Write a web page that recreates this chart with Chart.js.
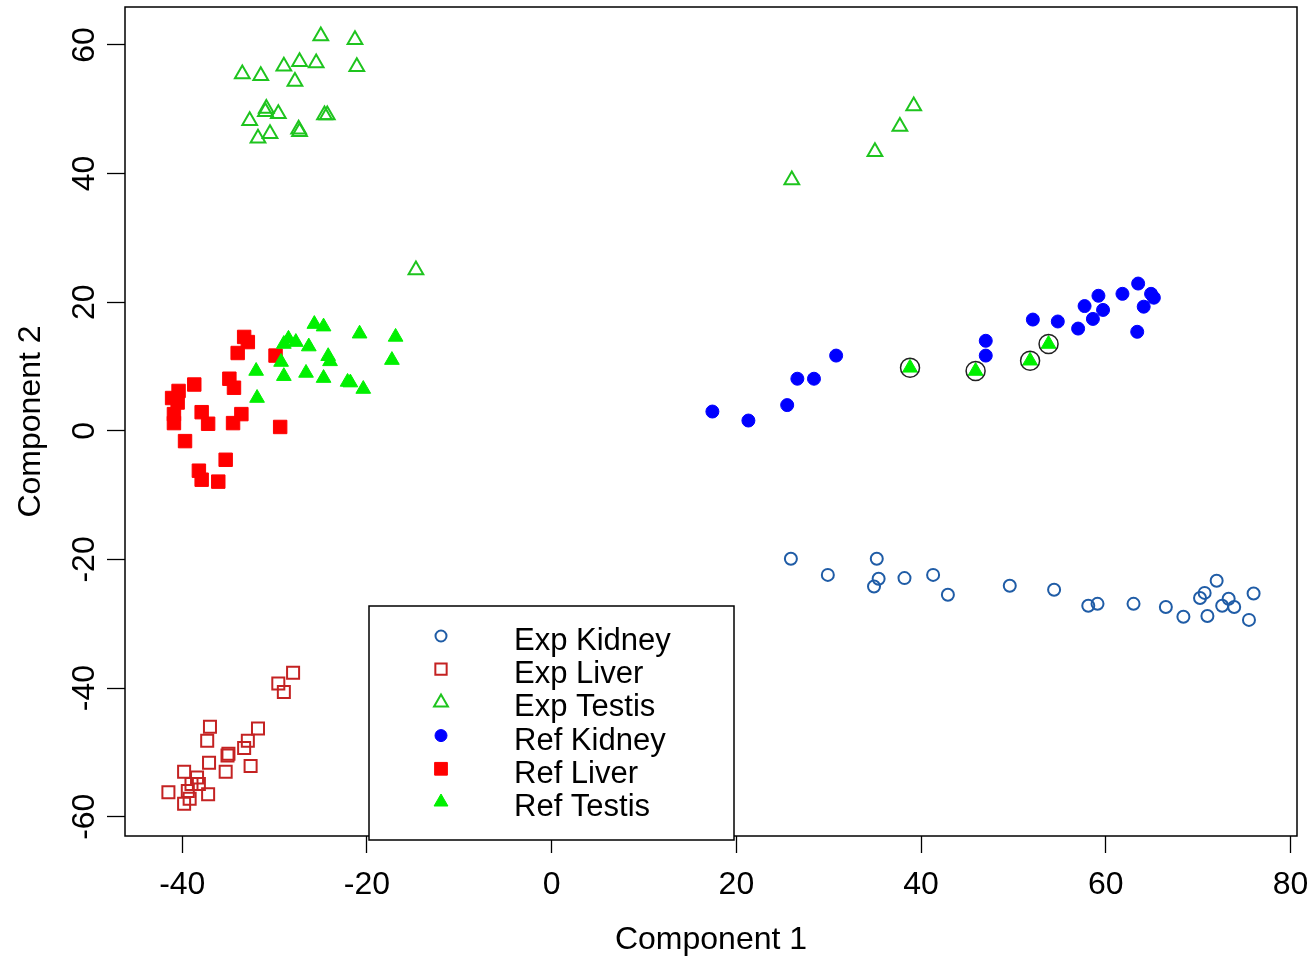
<!DOCTYPE html>
<html>
<head>
<meta charset="utf-8">
<title>Component plot</title>
<script src="https://cdn.jsdelivr.net/npm/chart.js@4.4.0/dist/chart.umd.min.js"></script>
<style>
  html, body { margin: 0; padding: 0; background: #fff; }
  canvas { display: block; }
</style>
</head>
<body>
<canvas id="pcaChart" width="1312" height="959"></canvas>
<script>
// tick labels
const xTicks = [-40, -20, 0, 20, 40, 60, 80];
const yTicks = [-60, -40, -20, 0, 20, 40, 60];

const seriesNames = ['Exp Kidney', 'Exp Liver', 'Exp Testis', 'Ref Kidney', 'Ref Liver', 'Ref Testis'];

// values
const expKidneyX = [25.9, 29.9, 35.2, 35.4, 34.9, 38.2, 41.3, 42.9, 49.6, 54.4, 58.1, 59.1, 63.0, 66.5, 68.4, 70.2, 70.7, 72.0, 71.0, 72.6, 73.3, 73.9, 76.0, 75.5];
const expKidneyY = [-19.9, -22.4, -19.9, -23.0, -24.2, -22.9, -22.4, -25.5, -24.1, -24.7, -27.2, -26.9, -26.9, -27.4, -28.9, -26.0, -25.2, -23.3, -28.8, -27.2, -26.1, -27.4, -25.3, -29.4];

const expLiverX = [-28.0, -29.6, -29.0, -37.0, -37.3, -31.8, -32.9, -33.3, -35.0, -35.1, -37.1, -35.3, -32.6, -39.8, -38.4, -39.0, -38.2, -39.4, -41.5, -37.2, -39.2, -39.8];
const expLiverY = [-37.6, -39.3, -40.6, -46.0, -48.2, -46.3, -48.2, -49.3, -50.2, -50.5, -51.6, -53.0, -52.1, -53.0, -53.9, -54.9, -54.9, -56.0, -56.2, -56.5, -57.2, -58.0];

const expTestisX = [-25.0, -21.3, -33.5, -31.5, -29.0, -27.3, -25.5, -21.1, -27.8, -32.7, -30.9, -31.0, -29.6, -30.5, -31.8, -27.4, -27.3, -24.6, -24.3, -14.7, 39.2, 37.7, 35.0, 26.0];
const expTestisY = [61.4, 60.8, 55.5, 55.2, 56.7, 57.4, 57.2, 56.6, 54.3, 48.2, 50.1, 49.6, 49.3, 46.2, 45.5, 46.9, 46.5, 49.1, 49.1, 25.0, 50.5, 47.3, 43.4, 39.0];

const refKidneyX = [30.8, 26.6, 28.4, 25.5, 17.4, 21.3, 47.0, 47.0, 52.1, 54.8, 57.0, 57.7, 59.2, 59.7, 58.6, 61.8, 63.5, 64.9, 65.2, 64.1, 63.4];
const refKidneyY = [11.7, 8.1, 8.1, 4.0, 3.0, 1.6, 14.0, 11.7, 17.3, 17.0, 15.9, 19.4, 21.0, 18.8, 17.4, 21.3, 22.9, 21.3, 20.7, 19.3, 15.4];

const refLiverX = [-33.3, -32.9, -34.0, -29.9, -38.7, -34.9, -34.4, -40.4, -41.1, -40.5, -40.9, -40.9, -37.9, -37.2, -33.6, -34.5, -29.4, -39.7, -35.3, -38.2, -37.9, -36.1];
const refLiverY = [14.6, 13.8, 12.1, 11.7, 7.2, 8.1, 6.7, 6.2, 5.1, 4.4, 2.6, 1.2, 2.9, 1.1, 2.6, 1.2, 0.6, -1.6, -4.5, -6.2, -7.6, -7.9];

const refTestisX = [-25.7, -24.7, -20.8, -16.9, -28.5, -27.7, -29.0, -26.3, -24.2, -24.0, -17.3, -29.3, -32.0, -29.0, -26.6, -24.7, -22.1, -21.8, -20.4, -31.9, 38.8, 45.9, 51.8, 53.8];
const refTestisY = [16.6, 16.2, 15.1, 14.6, 14.3, 13.8, 13.5, 13.1, 11.6, 10.8, 11.0, 10.7, 9.3, 8.5, 9.0, 8.2, 7.6, 7.5, 6.5, 5.1, 9.8, 9.3, 10.9, 13.5];

// ref testis samples that are ringed
const ringedX = [38.8, 45.9, 51.8, 53.8];
const ringedY = [9.8, 9.3, 10.9, 13.5];

const FONT = "'Liberation Sans', Arial, sans-serif";

function pts(xs, ys) {
    return xs.map((x, i) => ({ x: x, y: ys[i] }));
}

function series(label, xs, ys, style, color, radius, filled, order) {
    return {
        label: label,
        data: pts(xs, ys),
        pointStyle: style,
        pointRadius: radius,
        pointHoverRadius: radius,
        borderColor: color,
        backgroundColor: filled ? color : 'rgba(0,0,0,0)',
        pointBorderWidth: filled ? 1 : 2,
        borderWidth: filled ? 1 : 2,
        showLine: false,
        order: order
    };
}

const datasets = [
    series(seriesNames[0], expKidneyX, expKidneyY, 'circle', '#1f5ca6', 6, false, 9),
    series(seriesNames[1], expLiverX, expLiverY, 'rect', '#c42222', 8.5, false, 8),
    series(seriesNames[2], expTestisX, expTestisY, 'triangle', '#1ec41e', 8.5, false, 7),
    series(seriesNames[3], refKidneyX, refKidneyY, 'circle', '#0000ff', 6.5, true, 6),
    series(seriesNames[4], refLiverX, refLiverY, 'rect', '#ff0000', 9.5, true, 5),
    series(seriesNames[5], refTestisX, refTestisY, 'triangle', '#00f000', 8.5, true, 4)
];
const ring = series('', ringedX, ringedY, 'circle', '#222222', 9.5, false, 1);
ring.borderWidth = 1.5;
ring.pointBorderWidth = 1.5;
ring.inLegend = false;
datasets.push(ring);

const frameBox = {
    id: 'frameBox',
    afterDatasetsDraw(chart) {
        const a = chart.chartArea;
        const ctx = chart.ctx;
        ctx.save();
        ctx.strokeStyle = '#000';
        ctx.lineWidth = 1.5;
        ctx.strokeRect(a.left, a.top, a.right - a.left, a.bottom - a.top);
        ctx.restore();
    }
};

// legend box placed inside the plot like the original
const boxLegend = {
    id: 'boxLegend',
    afterDraw(chart) {
        const ctx = chart.ctx;
        const x0 = 369, y0 = 606, w = 365, h = 234;
        ctx.save();
        ctx.fillStyle = '#fff';
        ctx.fillRect(x0, y0, w, h);
        ctx.strokeStyle = '#000';
        ctx.lineWidth = 1.5;
        ctx.strokeRect(x0, y0, w, h);
        const items = chart.data.datasets.filter(d => d.inLegend !== false);
        items.forEach((d, i) => {
            const base = 650 + i * 33.2;
            ctx.fillStyle = d.backgroundColor;
            ctx.strokeStyle = d.borderColor;
            ctx.lineWidth = d.borderWidth;
            Chart.helpers.drawPoint(ctx, {
                pointStyle: d.pointStyle,
                radius: d.pointRadius - 0.5,
                rotation: 0,
                borderWidth: d.borderWidth
            }, 441, base - 14);
            ctx.fillStyle = '#000';
            ctx.font = '31px ' + FONT;
            ctx.textAlign = 'left';
            ctx.textBaseline = 'alphabetic';
            ctx.fillText(d.label, 514, base);
        });
        ctx.restore();
    }
};

new Chart(document.getElementById('pcaChart'), {
    type: 'scatter',
    data: { datasets: datasets },
    plugins: [frameBox, boxLegend],
    options: {
        responsive: false,
        animation: false,
        layout: { autoPadding: false, padding: { left: 0, top: 7, right: 15, bottom: 0 } },
        plugins: {
            legend: { display: false },
            tooltip: { enabled: false }
        },
        scales: {
            x: {
                type: 'linear',
                min: -46.2,
                max: 80.7,
                afterBuildTicks: s => { s.ticks = xTicks.map(v => ({ value: v })); },
                afterFit: s => {
                    s.height = 123;
                    s.paddingLeft = 0;
                    s.paddingRight = 0;
                },
                grid: { drawOnChartArea: false, drawTicks: true, tickLength: 17, tickColor: '#000', tickWidth: 1.3 },
                border: { display: false },
                ticks: { color: '#000', font: { size: 32, family: FONT }, padding: 13, maxRotation: 0 },
                title: {
                    display: true, text: 'Component 1', color: '#000',
                    font: { size: 32, family: FONT }, padding: { top: 0, bottom: 0 }
                }
            },
            y: {
                type: 'linear',
                min: -63.0,
                max: 65.9,
                afterBuildTicks: s => { s.ticks = yTicks.map(v => ({ value: v })); },
                afterFit: s => {
                    s.width = 125;
                    s.paddingTop = 0;
                    s.paddingBottom = 0;
                },
                grid: { drawOnChartArea: false, drawTicks: true, tickLength: 18, tickColor: '#000', tickWidth: 1.3 },
                border: { display: false },
                ticks: {
                    color: '#000', font: { size: 32, family: FONT }, padding: -1,
                    minRotation: 90, maxRotation: 90, crossAlign: 'center'
                },
                title: {
                    display: true, text: 'Component 2', color: '#000',
                    font: { size: 32, family: FONT }, padding: { top: 12, bottom: 0 }
                }
            }
        }
    }
});
</script>
</body>
</html>
